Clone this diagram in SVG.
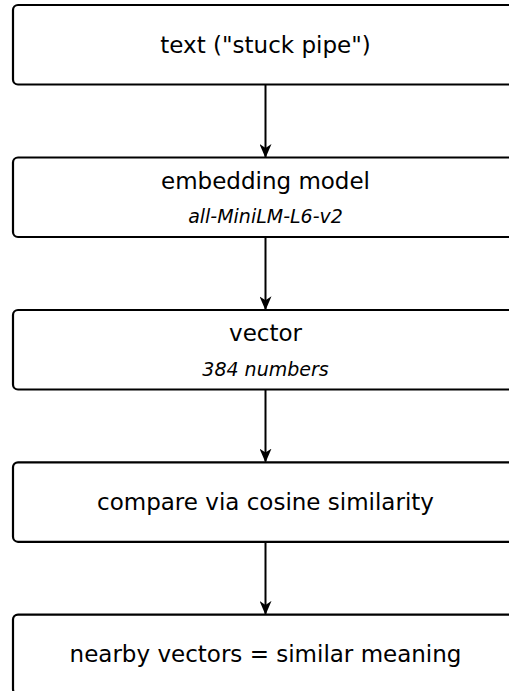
<svg xmlns="http://www.w3.org/2000/svg" width="509" height="691" viewBox="0 0 509 691">
<defs>
<style>
.box{fill:#fff;stroke:#000;stroke-width:2.2}
.t{font-family:"DejaVu Sans","Liberation Sans",sans-serif;font-size:23px;fill:#000;text-anchor:middle}
.s{font-family:"DejaVu Sans","Liberation Sans",sans-serif;font-size:19px;font-style:italic;fill:#000;text-anchor:middle}
.c{stroke:#000;stroke-width:2;fill:none}
</style>
<marker id="ah" viewBox="0 0 14 12" refX="13" refY="6" markerWidth="14" markerHeight="12" markerUnits="userSpaceOnUse" orient="auto">
<path d="M0,0 L14,6 L0,12 L4,6 Z" fill="#000"/>
</marker>
</defs>
<rect width="509" height="691" fill="#fff"/>
<g id="connectors">
<line class="c" x1="265.5" y1="84.5" x2="265.5" y2="157" marker-end="url(#ah)"/>
<line class="c" x1="265.5" y1="237" x2="265.5" y2="309.3" marker-end="url(#ah)"/>
<line class="c" x1="265.5" y1="389.4" x2="265.5" y2="461.6" marker-end="url(#ah)"/>
<line class="c" x1="265.5" y1="541.7" x2="265.5" y2="613.9" marker-end="url(#ah)"/>
</g>
<g id="n1">
<rect class="box" x="13" y="5" width="505" height="79.5" rx="5"/>
<text class="t" x="265.5" y="52.5">text ("stuck pipe")</text>
</g>
<g id="n2">
<rect class="box" x="13" y="157.5" width="505" height="79.5" rx="5"/>
<text class="t" x="265.5" y="188.5">embedding model</text>
<text class="s" x="265.5" y="223">all-MiniLM-L6-v2</text>
</g>
<g id="n3">
<rect class="box" x="13" y="310" width="505" height="79.5" rx="5"/>
<text class="t" x="265.5" y="341">vector</text>
<text class="s" x="265.5" y="375.5">384 numbers</text>
</g>
<g id="n4">
<rect class="box" x="13" y="462.3" width="505" height="79.5" rx="5"/>
<text class="t" x="265.5" y="510">compare via cosine similarity</text>
</g>
<g id="n5">
<rect class="box" x="13" y="614.6" width="505" height="79.5" rx="5"/>
<text class="t" x="265.5" y="662">nearby vectors = similar meaning</text>
</g>
</svg>
